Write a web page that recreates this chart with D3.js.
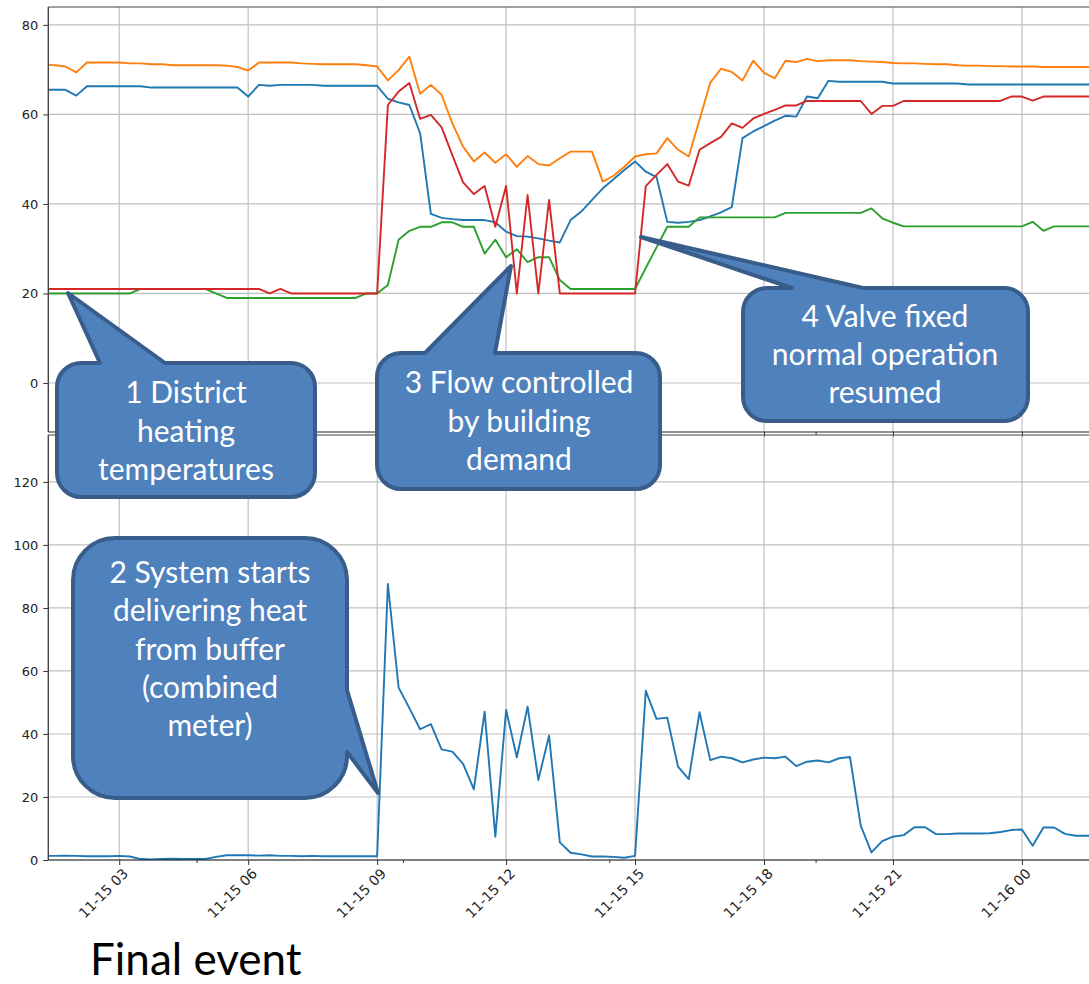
<!DOCTYPE html>
<html><head><meta charset="utf-8">
<script src="https://cdn.jsdelivr.net/npm/d3@7"></script>
<style>body{margin:0;background:#fff}svg{display:block}</style>
</head><body>
<svg id="c" width="1089" height="984"></svg>
<script>
// ---- data (15-minute samples starting 2020-11-15 01:15) ----
const startTime = "2020-11-15T01:15:00";
const stepMinutes = 15;

const tempBlue = [65.5,65.5,65.5,64.2,66.3,66.3,66.3,66.3,66.3,66.3,
  66.0,66.0,66.0,66.0,66.0,66.0,66.0,66.0,66.0,64.0,
  66.6,66.4,66.6,66.6,66.6,66.6,66.4,66.4,66.4,66.4,
  66.4,66.4,63.5,62.7,62.1,55.8,37.8,36.9,36.6,36.4,
  36.4,36.4,35.9,33.8,32.8,32.7,32.3,31.8,31.4,36.4,
  38.3,40.9,43.5,45.5,47.6,49.5,47.2,46.0,36.0,35.8,
  36.0,36.4,37.2,38.1,39.3,54.7,56.2,57.4,58.6,59.7,
  59.5,64.0,63.6,67.5,67.3,67.3,67.3,67.3,67.3,66.9,
  66.9,66.9,66.9,66.9,66.9,66.9,66.7,66.7,66.7,66.7,
  66.7,66.7,66.7,66.7,66.7,66.7,66.7,66.7,66.7];

const tempOrange = [71.1,71.0,70.7,69.4,71.6,71.6,71.6,71.6,71.4,71.4,
  71.2,71.2,71.0,71.0,71.0,71.0,71.0,70.9,70.6,69.8,
  71.6,71.6,71.6,71.6,71.4,71.3,71.2,71.2,71.2,71.2,
  71.0,70.7,67.6,69.9,72.9,64.6,66.6,64.4,58.0,52.8,
  49.5,51.5,49.2,51.1,48.3,50.7,48.9,48.6,50.2,51.7,
  51.7,51.7,45.0,46.3,48.3,50.6,51.1,51.3,54.7,52.1,
  50.6,58.8,67.1,70.2,69.5,67.6,72.0,69.3,68.1,72.0,
  71.7,72.4,71.9,72.1,72.1,72.1,71.9,71.8,71.7,71.5,
  71.4,71.4,71.3,71.2,71.2,71.0,70.9,70.9,70.8,70.8,
  70.7,70.7,70.7,70.6,70.6,70.6,70.6,70.6,70.6];

const tempGreen = [20.0,20.0,20.0,20.0,20.0,20.0,20.0,20.0,20.0,21.0,
  21.0,21.0,21.0,21.0,21.0,21.0,20.0,19.0,19.0,19.0,
  19.0,19.0,19.0,19.0,19.0,19.0,19.0,19.0,19.0,19.0,
  20.0,20.0,21.9,32.0,34.0,34.9,34.9,35.9,35.9,34.9,
  34.9,28.9,32.0,28.1,29.9,27.0,28.1,28.1,23.0,21.0,
  21.0,21.0,21.0,21.0,21.0,21.0,25.7,30.3,34.9,34.9,
  34.9,37.0,37.0,37.0,37.0,37.0,37.0,37.0,37.0,38.0,
  38.0,38.0,38.0,38.0,38.0,38.0,38.0,39.0,36.8,35.8,
  35.0,35.0,35.0,35.0,35.0,35.0,35.0,35.0,35.0,35.0,
  35.0,35.0,36.0,34.0,35.0,35.0,35.0,35.0,35.0];

const tempRed = [21.0,21.0,21.0,21.0,21.0,21.0,21.0,21.0,21.0,21.0,
  21.0,21.0,21.0,21.0,21.0,21.0,21.0,21.0,21.0,21.0,
  21.0,20.0,21.0,20.0,20.0,20.0,20.0,20.0,20.0,20.0,
  20.0,20.0,62.1,65.1,67.0,59.0,59.9,57.1,50.9,44.8,
  42.2,44.0,34.9,44.0,20.0,42.0,20.0,40.9,20.0,20.0,
  20.0,20.0,20.0,20.0,20.0,20.0,44.0,46.5,48.9,45.0,
  44.1,52.1,53.6,55.0,58.0,57.0,59.1,60.1,61.0,62.0,
  62.0,63.0,63.0,63.0,63.0,63.0,63.0,60.1,61.9,61.9,
  63.0,63.0,63.0,63.0,63.0,63.0,63.0,63.0,63.0,63.0,
  64.0,64.0,63.1,64.0,64.0,64.0,64.0,64.0,64.0];

const flow = [1.3,1.3,1.4,1.3,1.2,1.2,1.2,1.3,1.1,0.3,
  0.2,0.3,0.4,0.3,0.3,0.3,1.0,1.5,1.5,1.5,
  1.4,1.5,1.3,1.3,1.2,1.3,1.2,1.2,1.2,1.2,
  1.2,1.2,87.6,54.7,48.2,41.5,43.1,35.1,34.4,30.5,
  22.4,47.1,7.4,47.6,32.6,48.7,25.4,39.5,5.6,2.3,
  1.8,1.1,1.1,1.0,0.7,1.3,53.7,44.8,45.2,29.6,
  25.7,46.9,31.7,32.8,32.3,31.0,31.9,32.5,32.3,32.8,
  29.8,31.2,31.6,31.0,32.3,32.7,10.9,2.4,6.0,7.4,
  7.9,10.4,10.4,8.2,8.2,8.4,8.4,8.4,8.5,8.9,
  9.5,9.7,4.5,10.3,10.3,8.3,7.7,7.7,7.7];

const topTicks = [0,20,40,60,80];
const bottomTicks = [0,20,40,60,80,100,120];
const majorTicks = ["2020-11-15T03:00","2020-11-15T06:00","2020-11-15T09:00","2020-11-15T12:00",
  "2020-11-15T15:00","2020-11-15T18:00","2020-11-15T21:00","2020-11-16T00:00"];
const minorTicks = ["2020-11-15T04:48","2020-11-15T09:36","2020-11-15T14:24","2020-11-15T19:12"];
const xDomain = ["2020-11-15T01:21:00","2020-11-16T01:49:00"];

const callout1 = ["1 District","heating","temperatures"];
const callout2 = ["2 System starts","delivering heat","from buffer","(combined","meter)"];
const callout3 = ["3 Flow controlled","by building","demand"];
const callout4 = ["4 Valve fixed","normal operation","resumed"];
const footer = "Final event";

// ---- layout ----
const svg = d3.select("#c");
svg.append("rect").attr("width",1089).attr("height",984).attr("fill","#fff");
const L = 48.3, R = 1100;
const topP = {y0:7, y1:432}, botP = {y0:435, y1:860};
const parse = s => new Date(s);
const t0 = parse(startTime);
const times = tempBlue.map((_,i)=> new Date(t0.getTime() + i*stepMinutes*60000));

const x = d3.scaleTime().domain(xDomain.map(parse)).range([L,R]);
const yT = d3.scaleLinear().domain([-10.95,84.0]).range([topP.y1, topP.y0]);
const yB = d3.scaleLinear().domain([0,134.9]).range([botP.y1, botP.y0]);

const defs = svg.append("defs");
defs.append("clipPath").attr("id","clipT").append("rect").attr("x",L).attr("y",topP.y0).attr("width",R-L).attr("height",topP.y1-topP.y0);
defs.append("clipPath").attr("id","clipB").append("rect").attr("x",L).attr("y",botP.y0).attr("width",R-L).attr("height",botP.y1-botP.y0);

const gridColor = "#c0c0c0";
const tickFont = "'DejaVu Sans', Verdana, sans-serif";
function panel(p, y, ticks, clipId, series, showLabels){
  const g = svg.append("g");
  g.selectAll(".hg").data(ticks).join("line")
    .attr("x1",L).attr("x2",R).attr("y1",d=>y(d)).attr("y2",d=>y(d))
    .attr("stroke",gridColor).attr("stroke-width",1.2);
  g.selectAll(".vg").data(majorTicks.map(parse)).join("line")
    .attr("x1",d=>x(d)).attr("x2",d=>x(d)).attr("y1",p.y0).attr("y2",p.y1)
    .attr("stroke",gridColor).attr("stroke-width",1.2);
  const lg = g.append("g").attr("clip-path",`url(#${clipId})`);
  series.forEach(s=>{
    const line = d3.line().x((d,i)=>x(times[i])).y(d=>y(d));
    lg.append("path").datum(s.values).attr("d",line).attr("fill","none")
      .attr("stroke",s.color).attr("stroke-width",1.9).attr("stroke-linejoin","round");
  });
  const ya = d3.axisLeft(y).tickValues(ticks).tickSize(5).tickPadding(5).tickFormat(d3.format("d"));
  const yg = g.append("g").attr("transform",`translate(${L},0)`).call(ya);
  yg.select(".domain").remove();
  yg.selectAll("line").attr("stroke","#333");
  yg.selectAll("text").attr("font-family",tickFont).attr("font-size",13).attr("fill","#222");
  const xa = d3.axisBottom(x).tickValues(majorTicks.map(parse)).tickSize(5).tickFormat(showLabels? d3.timeFormat("%m-%d %H") : "");
  const xg = g.append("g").attr("transform",`translate(0,${p.y1})`).call(xa);
  xg.select(".domain").remove();
  xg.selectAll("line").attr("stroke","#333");
  const xm = d3.axisBottom(x).tickValues(minorTicks.map(parse)).tickSize(3).tickFormat("");
  const xmg = g.append("g").attr("transform",`translate(0,${p.y1})`).call(xm);
  xmg.select(".domain").remove();
  xmg.selectAll("line").attr("stroke","#333");
  if(showLabels){
    xg.selectAll("text").attr("font-family",tickFont).attr("font-size",14).attr("fill","#222")
      .attr("text-anchor","end").attr("y",0).attr("dy","0.75em")
      .attr("transform","translate(2,7) rotate(-45)");
  }
  g.append("line").attr("x1",L).attr("x2",L).attr("y1",p.y0).attr("y2",p.y1).attr("stroke","#444").attr("stroke-width",1.4);
  g.append("line").attr("x1",L).attr("x2",R).attr("y1",p.y0).attr("y2",p.y0).attr("stroke","#444").attr("stroke-width",1.2);
  g.append("line").attr("x1",L).attr("x2",R).attr("y1",p.y1).attr("y2",p.y1).attr("stroke","#222").attr("stroke-width",1.2);
}

panel(topP, yT, topTicks, "clipT", [
  {values:tempBlue, color:"#1f77b4"},
  {values:tempOrange, color:"#ff7f0e"},
  {values:tempGreen, color:"#2ca02c"},
  {values:tempRed, color:"#d62728"}], false);
panel(botP, yB, bottomTicks, "clipB", [{values:flow, color:"#1f77b4"}], true);

// ---- callouts ----
function calloutPath(c){
  const {x:bx,y:by,w,h,r,side,p1,tip,p2} = c;
  let d = `M${bx+r},${by}`;
  if(side==="top") d += `L${p1[0]},${by}L${tip[0]},${tip[1]}L${p2[0]},${by}`;
  d += `L${bx+w-r},${by}A${r},${r} 0 0 1 ${bx+w},${by+r}`;
  if(side==="right") d += `L${bx+w},${p1[1]}L${tip[0]},${tip[1]}L${bx+w},${p2[1]}`;
  d += `L${bx+w},${by+h-r}A${r},${r} 0 0 1 ${bx+w-r},${by+h}`;
  d += `L${bx+r},${by+h}A${r},${r} 0 0 1 ${bx},${by+h-r}`;
  d += `L${bx},${by+r}A${r},${r} 0 0 1 ${bx+r},${by}Z`;
  return d;
}
const callouts = [
  {x:57,y:363,w:258,h:134,r:24,side:"top",p1:[100,363],tip:[68,293],p2:[165,363],text:callout1,cx:186,b0:403,ls:38.5},
  {x:73,y:538,w:274,h:260,r:42,side:"right",p1:[347,690],tip:[378,793],p2:[347,752],text:callout2,cx:210,b0:583,ls:38.3},
  {x:377,y:353,w:283,h:136,r:24,side:"top",p1:[425,353],tip:[511,266],p2:[495,353],text:callout3,cx:519,b0:393,ls:38.5},
  {x:743,y:288,w:285,h:133,r:24,side:"top",p1:[792,288],tip:[641,237],p2:[863,288],text:callout4,cx:885,b0:327,ls:38}
];
const cg = svg.append("g");
callouts.forEach(c=>{
  cg.append("path").attr("d",calloutPath(c)).attr("fill","#4f81bd")
    .attr("stroke","#385d8a").attr("stroke-width",4).attr("stroke-linejoin","round");
  const t = cg.append("text").attr("font-family","Lato, 'Open Sans', sans-serif").attr("font-size",30)
    .attr("fill","#fff").attr("text-anchor","middle");
  c.text.forEach((s,i)=> t.append("tspan").attr("x",c.cx).attr("y",c.b0+i*c.ls).text(s));
});

svg.append("text").attr("x",90).attr("y",975).attr("font-family","Lato, 'Open Sans', sans-serif")
  .attr("font-size",44).attr("fill","#000").text(footer);
</script>
</body></html>
